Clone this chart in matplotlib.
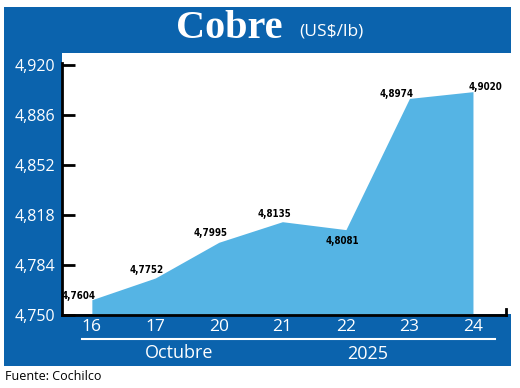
import matplotlib
matplotlib.use("Agg")
import matplotlib.pyplot as plt
from matplotlib.patches import Rectangle
import numpy as np

days = ["16", "17", "20", "21", "22", "23", "24"]
prices = [4.7604, 4.7752, 4.7995, 4.8135, 4.8081, 4.8974, 4.9020]
price_labels = ["4,7604", "4,7752", "4,7995", "4,8135", "4,8081", "4,8974", "4,9020"]
yticks = [4.750, 4.784, 4.818, 4.852, 4.886, 4.920]
ytick_labels = ["4,750", "4,784", "4,818", "4,852", "4,886", "4,920"]
month_label = "Octubre"
year_label = "2025"
title_main = "Cobre"
title_unit = "(US$/lb)"
source = "Fuente: Cochilco"

W, H = 520, 388
BLUE = "#0b63ad"
LIGHT = "#55b4e4"
SANS = ["Open Sans", "DejaVu Sans"]

fig = plt.figure(figsize=(W / 100, H / 100), dpi=100)
fig.patch.set_facecolor("white")

def px_rect(x0, y0, x1, y1, color, z=0):
    fig.patches.append(Rectangle((x0 / W, 1 - y1 / H), (x1 - x0) / W, (y1 - y0) / H,
                                 transform=fig.transFigure, facecolor=color,
                                 edgecolor="none", zorder=z))

px_rect(4, 7, 511, 366, BLUE, 0)
px_rect(62, 53, 511, 314, "white", 1)

ax_l, ax_r, ax_t, ax_b = 62, 506, 63, 315
ax = fig.add_axes([ax_l / W, 1 - ax_b / H, (ax_r - ax_l) / W, (ax_b - ax_t) / H])
ax.set_facecolor("none")
ax.set_zorder(2)

x = np.arange(len(days))
ax.fill_between(x, prices, 4.750, color=LIGHT, linewidth=0)
ax.set_xlim(-0.47, 6.52)
ax.set_ylim(4.750, 4.9215)

for s in ["top", "right"]:
    ax.spines[s].set_visible(False)
for s in ["left", "bottom"]:
    ax.spines[s].set_color("black")
    ax.spines[s].set_linewidth(2)

ax.set_yticks(yticks)
ax.set_yticklabels(ytick_labels, color="white", fontsize=11.5, family=SANS)
ax.tick_params(axis="y", direction="in", length=9, width=2, color="black", pad=5)
ax.set_xticks(x)
ax.set_xticklabels(days, color="white", fontsize=12.5, family=SANS)
ax.tick_params(axis="x", length=0, pad=3)

# small end tick at right of x axis
ax.plot([1, 1], [0, 0.025], transform=ax.transAxes, color="black", lw=2, clip_on=False)

offsets = [(-13, 4), (-9, 8), (-8, 9), (-8, 8), (-4, -11), (-13, 4), (12, 5)]
for xi, yi, lab, (dx, dy) in zip(x, prices, price_labels, offsets):
    ax.annotate(lab, (xi, yi), xytext=(dx * 0.72, dy * 0.72), textcoords="offset points",
                ha="center", va="center", fontsize=7, fontweight="bold",
                family=["DejaVu Sans"], fontstretch="condensed",
                color="black", annotation_clip=False)

# title
fig.text(229 / W, 1 - 29 / H, title_main, color="white", fontsize=29, fontweight="bold",
         family=["Liberation Serif", "DejaVu Serif"], ha="center", va="center", zorder=3)
fig.text(331 / W, 1 - 32 / H, title_unit, color="white", fontsize=12.5,
         family=SANS, ha="center", va="center", zorder=3)

# separator line and bottom labels
fig.lines.append(plt.Line2D([82 / W, 495 / W], [1 - 339 / H, 1 - 339 / H],
                            transform=fig.transFigure, color="white", lw=1.5, zorder=3))
fig.text(179 / W, 1 - 353 / H, month_label, color="white", fontsize=13, family=SANS,
         ha="center", va="center", zorder=3)
fig.text(368 / W, 1 - 354 / H, year_label, color="white", fontsize=13, family=SANS,
         ha="center", va="center", zorder=3)
fig.text(5 / W, 1 - 377 / H, source, color="black", fontsize=9, family=SANS,
         ha="left", va="center", zorder=3)

fig.savefig("out.png", dpi=100)
